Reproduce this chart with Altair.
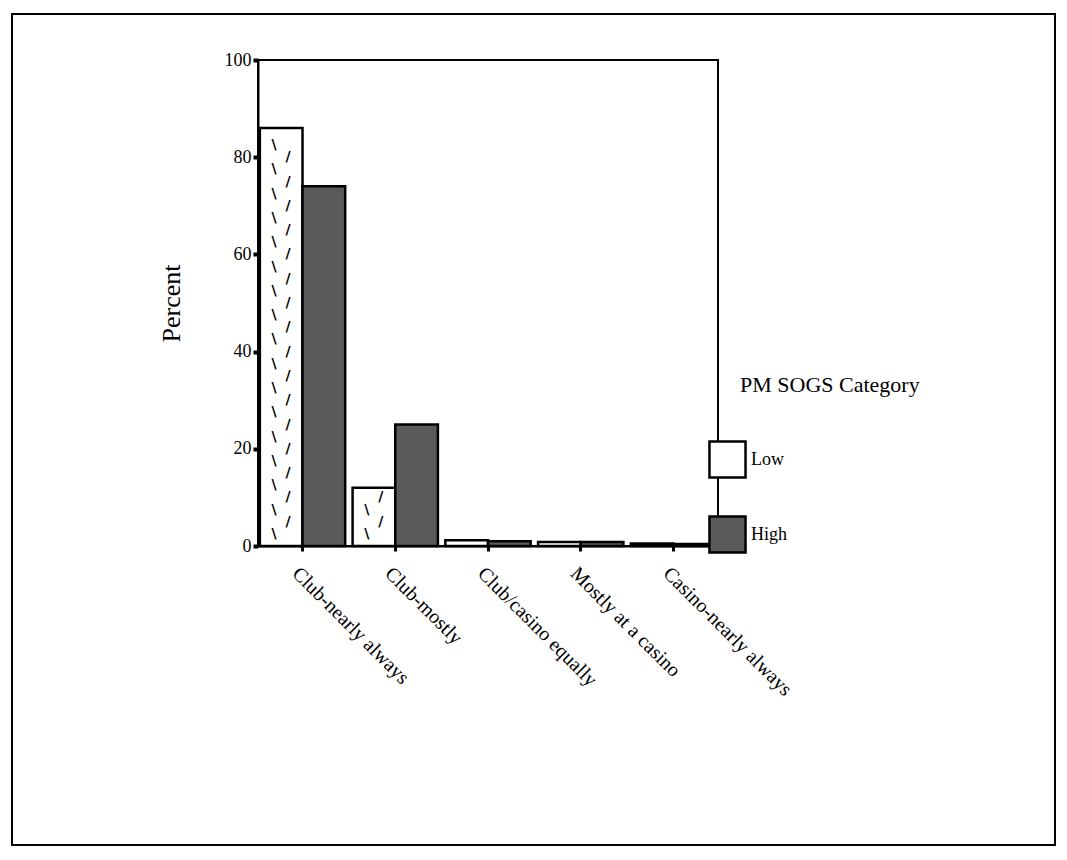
import altair as alt
import numpy as np
import pandas as pd

categories = ["Club-nearly always", "Club-mostly", "Club/casino equally",
              "Mostly at a casino", "Casino-nearly always"]
low_values = [86, 12, 1.2, 0.8, 0.5]
high_values = [74, 25, 1.0, 0.8, 0.4]
groups = ["Low", "High"]

rows = []
for c, lo, hi in zip(categories, low_values, high_values):
    rows.append({"cat": c, "grp": "Low", "pct": lo})
    rows.append({"cat": c, "grp": "High", "pct": hi})
df = pd.DataFrame(rows)

# texture marks for the hatched "Low" bars, derived from the low values
tex_a, tex_b = [], []
for c, lo in zip(categories, low_values):
    for y in np.arange(2.5, lo - 1.5, 5.0):
        tex_a.append({"cat": c, "grp": "Low", "y": y})
    for y in np.arange(5.0, lo - 1.5, 5.0):
        tex_b.append({"cat": c, "grp": "Low", "y": y})
tex_a = pd.DataFrame(tex_a)
tex_b = pd.DataFrame(tex_b)

FONT = "Liberation Serif"
W, H = 460, 486

xenc = alt.X("cat:N", sort=categories,
             scale=alt.Scale(paddingInner=0.08, paddingOuter=0.02),
             axis=alt.Axis(title=None, labelAngle=45, labelAlign="left",
                           labelBaseline="top", labelFontSize=20, labelFont=FONT,
                           labelColor="black", domainColor="black", domainWidth=2,
                           tickColor="black", tickWidth=3, tickSize=5,
                           labelPadding=12, labelLimit=400))
xoff = alt.XOffset("grp:N", sort=groups, scale=alt.Scale(domain=groups))
yscale = alt.Scale(domain=[0, 100])

bars = alt.Chart(df).mark_bar(stroke="black", strokeWidth=2.5).encode(
    x=xenc,
    xOffset=xoff,
    y=alt.Y("pct:Q", scale=yscale,
            axis=alt.Axis(title="Percent", values=[0, 20, 40, 60, 80, 100],
                          titleFont=FONT, titleFontSize=26, titleFontWeight="normal",
                          titleColor="black", titlePadding=40,
                          labelFont=FONT, labelFontSize=18, labelColor="black",
                          domainColor="black", domainWidth=2,
                          tickColor="black", tickWidth=4, tickSize=5, grid=False)),
    fill=alt.Fill("grp:N", sort=groups,
                  scale=alt.Scale(domain=groups, range=["#ffffff", "#5a5a5a"]),
                  legend=alt.Legend(title=None, orient="none",
                                    legendX=450, legendY=380,
                                    labelFont=FONT, labelFontSize=18, labelColor="black",
                                    symbolType="square", symbolSize=1300,
                                    symbolStrokeColor="black", symbolStrokeWidth=2.5,
                                    rowPadding=28, labelOffset=4)),
)

texA = alt.Chart(tex_a).mark_text(text="\\", font="DejaVu Sans", fontSize=14,
                                  fontWeight="bold", dx=-7, color="black").encode(
    x=alt.X("cat:N", sort=categories), xOffset=xoff,
    y=alt.Y("y:Q", scale=yscale))
texB = alt.Chart(tex_b).mark_text(text="/", font="DejaVu Sans", fontSize=14,
                                  fontWeight="bold", dx=7, color="black").encode(
    x=alt.X("cat:N", sort=categories), xOffset=xoff,
    y=alt.Y("y:Q", scale=yscale))

legend_title = alt.Chart(pd.DataFrame({"t": ["PM SOGS Category"]})).mark_text(
    font=FONT, fontSize=22, align="left", baseline="middle", color="black"
).encode(text="t:N", x=alt.value(482), y=alt.value(325))

frame = alt.Chart(pd.DataFrame({"k": [0]})).mark_rect(
    fill=None, stroke="black", strokeWidth=2
).encode(x=alt.value(-246), x2=alt.value(797), y=alt.value(-46), y2=alt.value(785))

chart = alt.layer(frame, bars, texA, texB, legend_title).properties(
    width=W, height=H,
    background="white",
    autosize=alt.AutoSizeParams(type="none"),
    padding={"left": 258, "top": 60, "right": 1067 - 258 - W, "bottom": 860 - 60 - H},
).configure_view(stroke="black", strokeWidth=2)

chart.save("out.html", embed_options={"renderer": "svg", "actions": False})
